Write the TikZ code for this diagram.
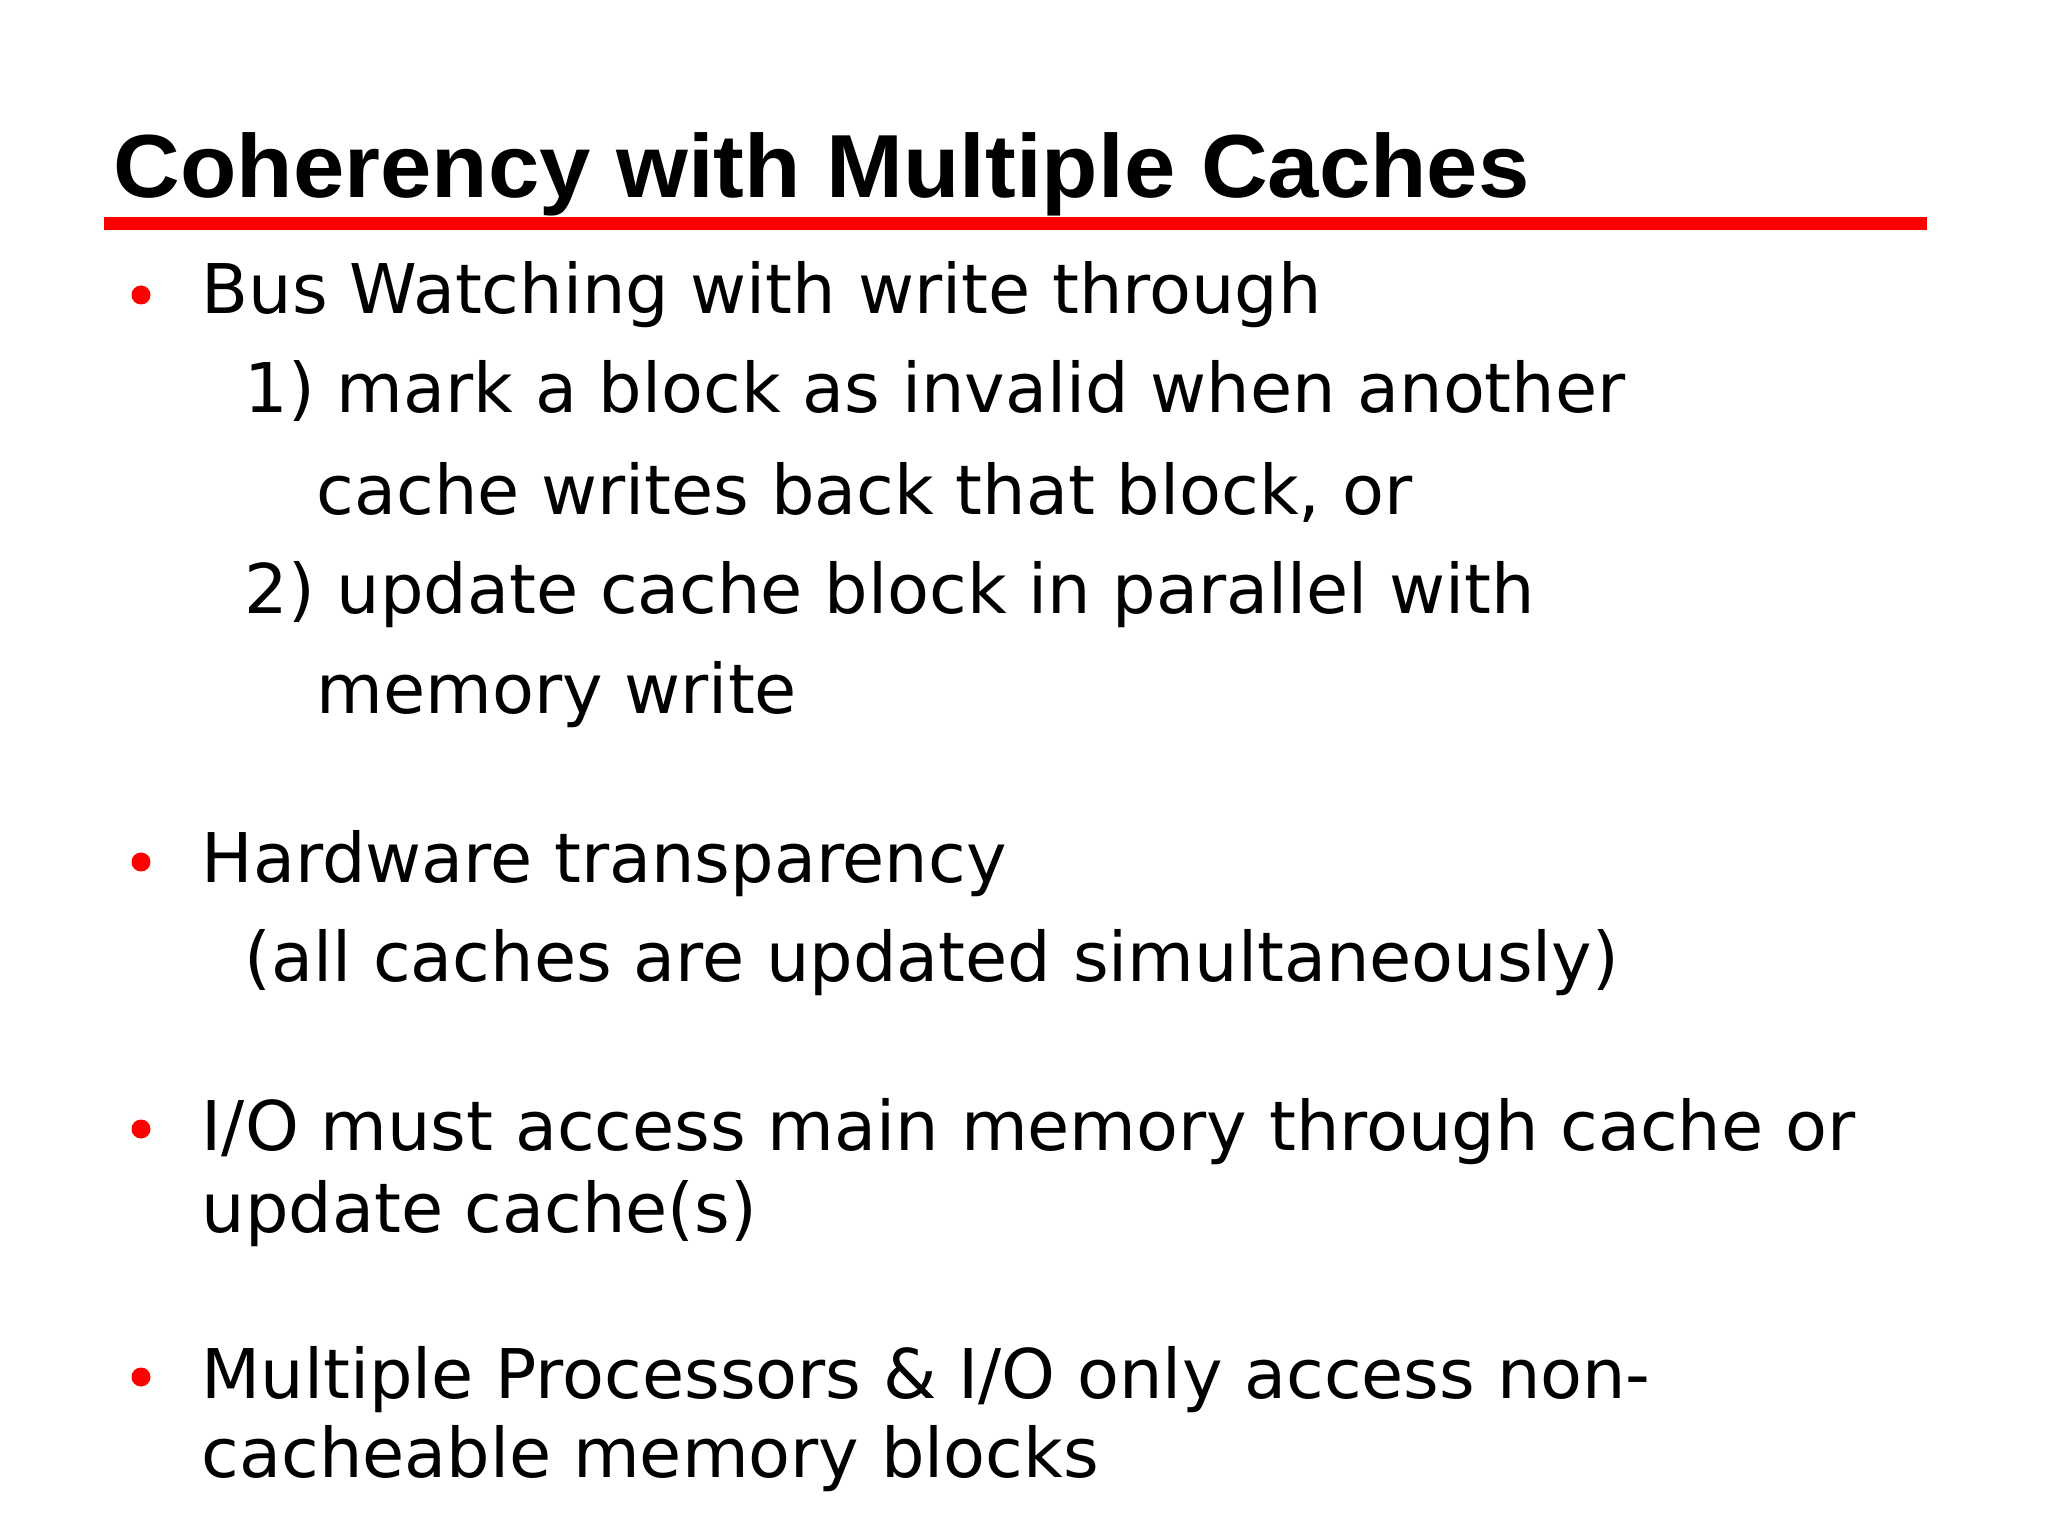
\documentclass[tikz,border=0pt]{standalone}
\usepackage{fontspec}
\setmainfont{DejaVu Sans}
\newfontfamily\titlefont{Liberation Sans}
\tikzset{txt/.style={anchor=base west,inner sep=0pt,font=\fontsize{19.5}{20}\selectfont},
bul/.style={circle,fill=red,inner sep=0pt,minimum size=0.19cm}}
\begin{document}
\begin{tikzpicture}
\useasboundingbox (0,0) rectangle (20.48,-15.36);
\node[anchor=base west,inner sep=0pt,font=\titlefont\bfseries\fontsize{25.5}{27}\selectfont,xscale=1.03] (title) at (1.13,-1.98) {Coherency with Multiple Caches};
\draw[red,line width=0.13cm] (1.04,-2.24) -- (19.27,-2.24);
\node[bul] (b1) at (1.41,-2.95) {};
\node[txt] (t1) at (2.01,-3.14) {Bus Watching with write through};
\node[txt] (t2) at (2.44,-4.13) {1) mark a block as invalid when another};
\node[txt] (t3) at (3.16,-5.14) {cache writes back that block, or};
\node[txt] (t4) at (2.44,-6.14) {2) update cache block in parallel with};
\node[txt] (t5) at (3.16,-7.14) {memory write};
\node[bul] (b2) at (1.41,-8.62) {};
\node[txt] (t6) at (2.01,-8.83) {Hardware transparency};
\node[txt] (t7) at (2.44,-9.81) {(all caches are updated simultaneously)};
\node[bul] (b3) at (1.41,-11.29) {};
\node[txt] (t8) at (2.01,-11.50) {I/O must access main memory through cache or};
\node[txt] (t9) at (2.01,-12.32) {update cache(s)};
\node[bul] (b4) at (1.41,-13.77) {};
\node[txt] (t10) at (2.01,-13.98) {Multiple Processors \& I/O only access non-};
\node[txt] (t11) at (2.01,-14.77) {cacheable memory blocks};
\end{tikzpicture}
\end{document}
